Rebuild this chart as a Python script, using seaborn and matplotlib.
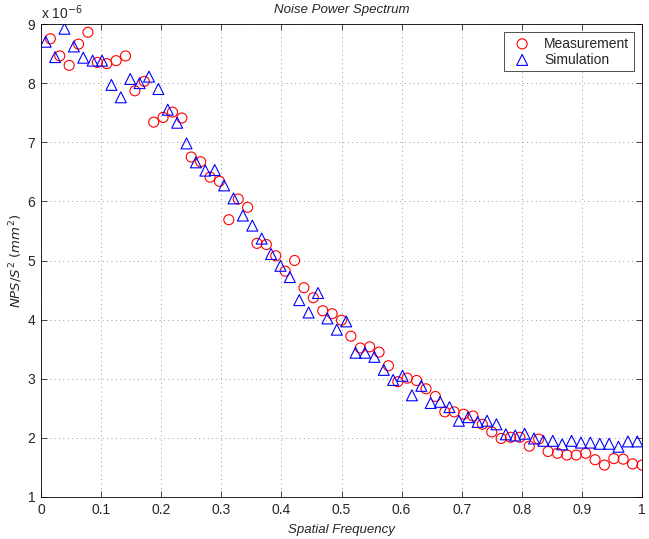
import numpy as np
import pandas as pd
import matplotlib
matplotlib.use("Agg")
import matplotlib.pyplot as plt
import seaborn as sns

# NPS values in units of 1e-6 mm^2, 64 frequency samples each
freq_meas = np.arange(1, 65) / 64
nps_meas = [8.75, 8.46, 8.30, 8.66, 8.86, 8.35, 8.33, 8.38, 8.46, 7.87,
            8.03, 7.34, 7.42, 7.51, 7.41, 6.75, 6.67, 6.41, 6.34, 5.69,
            6.04, 5.90, 5.29, 5.27, 5.08, 4.82, 5.00, 4.54, 4.37, 4.15,
            4.10, 3.99, 3.72, 3.52, 3.54, 3.45, 3.22, 2.95, 3.01, 2.97,
            2.83, 2.70, 2.44, 2.44, 2.40, 2.37, 2.23, 2.10, 1.99, 2.01,
            2.01, 1.86, 1.98, 1.77, 1.74, 1.71, 1.71, 1.74, 1.63, 1.54,
            1.65, 1.64, 1.56, 1.54]

freq_sim = (np.arange(64) + 0.5) / 64
nps_sim = [8.70, 8.44, 8.92, 8.62, 8.43, 8.38, 8.38, 7.97, 7.76, 8.07,
           8.00, 8.11, 7.90, 7.55, 7.33, 6.98, 6.66, 6.52, 6.53, 6.27,
           6.05, 5.76, 5.59, 5.37, 5.11, 4.91, 4.72, 4.33, 4.12, 4.45,
           4.02, 3.83, 3.97, 3.44, 3.44, 3.37, 3.15, 2.98, 3.05, 2.72,
           2.88, 2.59, 2.61, 2.52, 2.29, 2.35, 2.27, 2.29, 2.23, 2.06,
           2.04, 2.07, 1.99, 1.95, 1.95, 1.89, 1.95, 1.92, 1.92, 1.90,
           1.90, 1.85, 1.94, 1.94]

meas = pd.DataFrame({'freq': freq_meas, 'nps': nps_meas})
sim = pd.DataFrame({'freq': freq_sim, 'nps': nps_sim})

sns.set_style('white')
plt.rcParams['font.family'] = ['Liberation Sans', 'DejaVu Sans']
plt.rcParams['xtick.direction'] = 'in'
plt.rcParams['ytick.direction'] = 'in'

fig = plt.figure(figsize=(6.49, 5.39), dpi=100)
ax = fig.add_axes([41 / 649, 42 / 539, 601 / 649, 473 / 539])

sns.scatterplot(data=meas, x='freq', y='nps', ax=ax, marker='o', s=52,
                facecolors='none', edgecolors='#ff0000', linewidths=0.8,
                label='Measurement')
sns.scatterplot(data=sim, x='freq', y='nps', ax=ax, marker='^', s=62,
                facecolors='none', edgecolors='#0000ff', linewidths=0.8,
                label='Simulation')

ax.set_xlim(0, 1)
ax.set_ylim(1, 9)
ax.set_xticks(np.arange(0, 1.01, 0.1))
ax.set_xticklabels(['0', '0.1', '0.2', '0.3', '0.4', '0.5', '0.6', '0.7', '0.8', '0.9', '1'])
ax.set_yticks(range(1, 10))
ax.tick_params(labelsize=10, length=4, width=0.6, top=True, right=True,
               bottom=True, left=True, pad=4)
ax.grid(True, linestyle=(0, (1, 3.5)), color='#999999', linewidth=0.7)
for sp in ax.spines.values():
    sp.set_color('black')
    sp.set_linewidth(0.6)

ax.set_title('Noise Power Spectrum', fontsize=9.5, style='italic', pad=8)
ax.set_xlabel('Spatial Frequency', fontsize=9.5, style='italic', labelpad=5)
ax.set_ylabel('$\\it{NPS/S}^2\\ (\\it{mm}^2)$', fontsize=9.5, labelpad=2)
ax.text(0.0, 1.005, 'x 10$^{-6}$', transform=ax.transAxes, fontsize=10,
        ha='left', va='bottom')

leg = ax.legend(loc='upper right', fontsize=10, frameon=True, fancybox=False,
                edgecolor='black', borderpad=0.3, handletextpad=0.6,
                labelspacing=0.15, borderaxespad=0.6)
leg.get_frame().set_linewidth(0.6)

fig.savefig('out.png', dpi=100)
